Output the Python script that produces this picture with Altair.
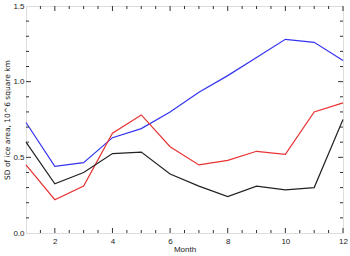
import altair as alt
import pandas as pd

months = list(range(1, 13))
blue = [0.73, 0.44, 0.465, 0.63, 0.69, 0.80, 0.93, 1.04, 1.16, 1.28, 1.26, 1.14]
red = [0.45, 0.22, 0.31, 0.66, 0.78, 0.57, 0.45, 0.48, 0.54, 0.52, 0.80, 0.86]
black = [0.60, 0.325, 0.40, 0.525, 0.535, 0.39, 0.31, 0.24, 0.31, 0.285, 0.30, 0.75]

series_names = ["blue", "red", "black"]
series_colors = ["#3434f0", "#e83232", "#222222"]

x_major = [2, 4, 6, 8, 10, 12]
x_minor = [1.5, 2.5, 3, 3.5, 4.5, 5, 5.5, 6.5, 7, 7.5, 8.5, 9, 9.5, 10.5, 11, 11.5]
y_major = [0.5, 1.0]
y_minor = [0.1, 0.2, 0.3, 0.4, 0.6, 0.7, 0.8, 0.9, 1.1, 1.2, 1.3, 1.4]

W, H = 317, 227

rows = []
for name, vals in zip(series_names, [blue, red, black]):
    for m, v in zip(months, vals):
        rows.append({"month": m, "value": v, "series": name})
df = pd.DataFrame(rows)

xs = alt.Scale(domain=[1, 12], nice=False, zero=False)
ys = alt.Scale(domain=[0, 1.5], nice=False)

font = "Liberation Sans"

lines = alt.Chart(df).mark_line(strokeWidth=1.2).encode(
    x=alt.X("month:Q", scale=xs,
            axis=alt.Axis(values=x_major, title="Month", grid=False, ticks=False,
                          domain=False, labelFontSize=8, labelFont=font, labelColor="#222",
                          labelPadding=4, titleFontSize=8, titleFont=font,
                          titleFontWeight="normal", titleColor="#222", titlePadding=0,
                          labelFlush=False)),
    y=alt.Y("value:Q", scale=ys,
            axis=alt.Axis(values=[0.0, 0.5, 1.0, 1.5], format=".1f",
                          title="SD of ice area, 10^6 square km", grid=False,
                          ticks=False, domain=False, labelFontSize=8, labelFont=font,
                          labelColor="#222", labelPadding=2, titleFontSize=7.5,
                          titleFont="DejaVu Sans", titleFontWeight="normal",
                          titleColor="#222", titlePadding=1)),
    color=alt.Color("series:N", scale=alt.Scale(domain=series_names, range=series_colors),
                    legend=None),
    detail="series:N",
)

def xticks(vals, length):
    d = pd.DataFrame({"t": vals})
    bot = alt.Chart(d).mark_rule(color="#333", strokeWidth=1).encode(
        x=alt.X("t:Q", scale=xs), y=alt.value(H), y2=alt.value(H - length))
    top = alt.Chart(d).mark_rule(color="#333", strokeWidth=1).encode(
        x=alt.X("t:Q", scale=xs), y=alt.value(0), y2=alt.value(length))
    return bot + top

def yticks(vals, length):
    d = pd.DataFrame({"t": vals})
    left = alt.Chart(d).mark_rule(color="#333", strokeWidth=1).encode(
        y=alt.Y("t:Q", scale=ys), x=alt.value(0), x2=alt.value(length))
    right = alt.Chart(d).mark_rule(color="#333", strokeWidth=1).encode(
        y=alt.Y("t:Q", scale=ys), x=alt.value(W), x2=alt.value(W - length))
    return left + right

chart = alt.layer(
    lines,
    xticks(x_major, 5), xticks(x_minor, 3),
    yticks(y_major, 5), yticks(y_minor, 3),
).properties(
    width=W, height=H,
    autosize=alt.AutoSizeParams(type="none"),
    padding={"left": 26, "top": 6, "right": 7, "bottom": 23},
).configure_view(stroke="#333", strokeWidth=1.2).configure(background="white")

chart.save("out.html", embed_options={"renderer": "svg", "actions": False})
